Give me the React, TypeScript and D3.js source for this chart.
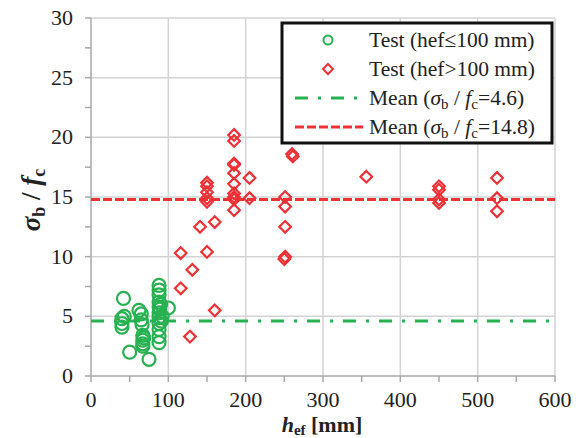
import React from 'react';
import * as d3 from 'd3';

// hef [mm], sigma_b / f_c
const greenX = [40, 40, 40, 42, 43, 50, 62, 65, 65, 66, 67, 67, 67, 67, 68, 75, 88, 88, 88, 88, 88, 88, 88, 88, 88, 88, 88, 89, 90, 91, 92, 100];
const greenY = [4.8, 4.4, 4.1, 6.5, 5.0, 2.0, 5.5, 5.2, 4.7, 4.3, 3.4, 3.0, 2.7, 2.5, 3.2, 1.4, 7.6, 7.2, 6.8, 6.2, 5.8, 5.3, 4.9, 4.4, 3.9, 3.3, 2.8, 5.6, 6.0, 4.6, 5.0, 5.7];

const redX = [116, 116, 128, 131, 141, 150, 150, 150, 150, 150, 150, 160, 160, 185, 185, 185, 185, 185, 185, 185, 185, 185, 185, 205, 205, 251, 251, 251, 251, 250, 260, 261, 356, 450, 450, 450, 450, 525, 525, 525];
const redY = [10.3, 7.35, 3.3, 8.9, 12.5, 16.2, 15.9, 15.4, 14.9, 14.6, 10.4, 12.9, 5.5, 20.2, 19.7, 17.8, 17.7, 17.0, 16.1, 15.3, 15.0, 14.8, 13.9, 16.6, 14.9, 15.0, 14.2, 12.5, 10.0, 9.8, 18.6, 18.4, 16.7, 15.9, 15.6, 14.8, 14.5, 16.6, 14.9, 13.8];

const meanGreen = 4.6;
const meanRed = 14.8;

const xTicks = [0, 100, 200, 300, 400, 500, 600];
const yTicks = [0, 5, 10, 15, 20, 25, 30];

const GREEN = '#27b150';
const RED = '#ee3136';
const GRID = '#d3d3d3';
const AXIS = '#a8a8a8';
const FONT = '"Liberation Serif", "Times New Roman", serif';

const x = d3.scaleLinear().domain([0, 600]).range([91, 555]);
const y = d3.scaleLinear().domain([0, 30]).range([376, 18]);

const diamond = (cx: number, cy: number, r: number) =>
  `M${cx},${cy - r}L${cx + r},${cy}L${cx},${cy + r}L${cx - r},${cy}Z`;

export default function App() {
  const minorX = d3.range(50, 600, 100);
  const minorY = d3.range(2.5, 30, 5);
  const [x0, x1] = x.range();
  const [y0, y1] = y.range();

  return (
    <svg width={584} height={438} style={{ position: 'absolute', left: 0, top: 0, background: '#fff' }}>
      {/* grid */}
      {xTicks.slice(1).map(t => (
        <line key={'gx' + t} x1={x(t)} x2={x(t)} y1={y0} y2={y1} stroke={GRID} strokeWidth={1.5} />
      ))}
      {yTicks.slice(1).map(t => (
        <line key={'gy' + t} x1={x0} x2={x1} y1={y(t)} y2={y(t)} stroke={GRID} strokeWidth={1.5} />
      ))}

      {/* axes */}
      <line x1={x0} x2={x0} y1={y0} y2={y1} stroke={AXIS} strokeWidth={1.5} />
      <line x1={x0} x2={x1} y1={y0} y2={y0} stroke={AXIS} strokeWidth={1.5} />
      {[...yTicks, ...minorY].map(t => (
        <line key={'ty' + t} x1={x0 - 6} x2={x0} y1={y(t)} y2={y(t)} stroke={AXIS} strokeWidth={1.5} />
      ))}
      {[...xTicks, ...minorX].map(t => (
        <line key={'tx' + t} x1={x(t)} x2={x(t)} y1={y0} y2={y0 + 6} stroke={AXIS} strokeWidth={1.5} />
      ))}
      {yTicks.map(t => (
        <text key={'ly' + t} x={73} y={y(t) + 7} textAnchor="end" fontFamily={FONT} fontSize={22} fill="#222">
          {t}
        </text>
      ))}
      {xTicks.map(t => (
        <text key={'lx' + t} x={x(t)} y={407} textAnchor="middle" fontFamily={FONT} fontSize={22} fill="#222">
          {t}
        </text>
      ))}

      {/* axis titles */}
      <text x={322} y={432} textAnchor="middle" fontFamily={FONT} fontSize={22} fontWeight="bold" fill="#222">
        <tspan fontStyle="italic">h</tspan>
        <tspan fontSize={15} dy={3}>ef</tspan>
        <tspan dy={-3}> [mm]</tspan>
      </text>
      <text
        transform="translate(40,200) rotate(-90)"
        textAnchor="middle"
        fontFamily={FONT}
        fontSize={27}
        fontWeight="bold"
        fill="#222"
      >
        <tspan fontStyle="italic">σ</tspan>
        <tspan fontSize={18} dy={5}>b</tspan>
        <tspan dy={-5}> / </tspan>
        <tspan fontStyle="italic">f</tspan>
        <tspan fontSize={18} dy={5}>c</tspan>
      </text>

      {/* mean lines */}
      <line x1={x(0)} x2={x(600)} y1={y(meanGreen)} y2={y(meanGreen)} stroke={GREEN} strokeWidth={3} strokeDasharray="13,10,3,10" />
      <line x1={x(0)} x2={x(600)} y1={y(meanRed)} y2={y(meanRed)} stroke={RED} strokeWidth={3} strokeDasharray="9,3" />

      {/* points */}
      {greenX.map((v, i) => (
        <circle key={'g' + i} cx={x(v)} cy={y(greenY[i])} r={6.5} fill="none" stroke={GREEN} strokeWidth={2.2} />
      ))}
      {redX.map((v, i) => (
        <path key={'r' + i} d={diamond(x(v), y(redY[i]), 5.8)} fill="none" stroke={RED} strokeWidth={2.2} />
      ))}

      {/* legend */}
      <rect x={282} y={23} width={270} height={120} fill="#fff" stroke="#111" strokeWidth={3} />
      <circle cx={328} cy={40} r={4.5} fill="none" stroke={GREEN} strokeWidth={2} />
      <path d={diamond(328, 69, 5)} fill="none" stroke={RED} strokeWidth={2} />
      <line x1={295} x2={363} y1={98} y2={98} stroke={GREEN} strokeWidth={3} strokeDasharray="13,10,3,10" />
      <line x1={295} x2={363} y1={127} y2={127} stroke={RED} strokeWidth={3} strokeDasharray="9,3" />
      <g fontFamily={FONT} fontSize={21.5} fill="#222">
        <text x={369} y={47}>Test (hef≤100 mm)</text>
        <text x={369} y={76}>Test (hef&gt;100 mm)</text>
        <text x={369} y={105}>
          Mean (<tspan fontStyle="italic">σ</tspan>
          <tspan fontSize={15} dy={4}>b</tspan>
          <tspan dy={-4}> / </tspan>
          <tspan fontStyle="italic">f</tspan>
          <tspan fontSize={15} dy={4}>c</tspan>
          <tspan dy={-4}>=4.6)</tspan>
        </text>
        <text x={369} y={134}>
          Mean (<tspan fontStyle="italic">σ</tspan>
          <tspan fontSize={15} dy={4}>b</tspan>
          <tspan dy={-4}> / </tspan>
          <tspan fontStyle="italic">f</tspan>
          <tspan fontSize={15} dy={4}>c</tspan>
          <tspan dy={-4}>=14.8)</tspan>
        </text>
      </g>
    </svg>
  );
}
